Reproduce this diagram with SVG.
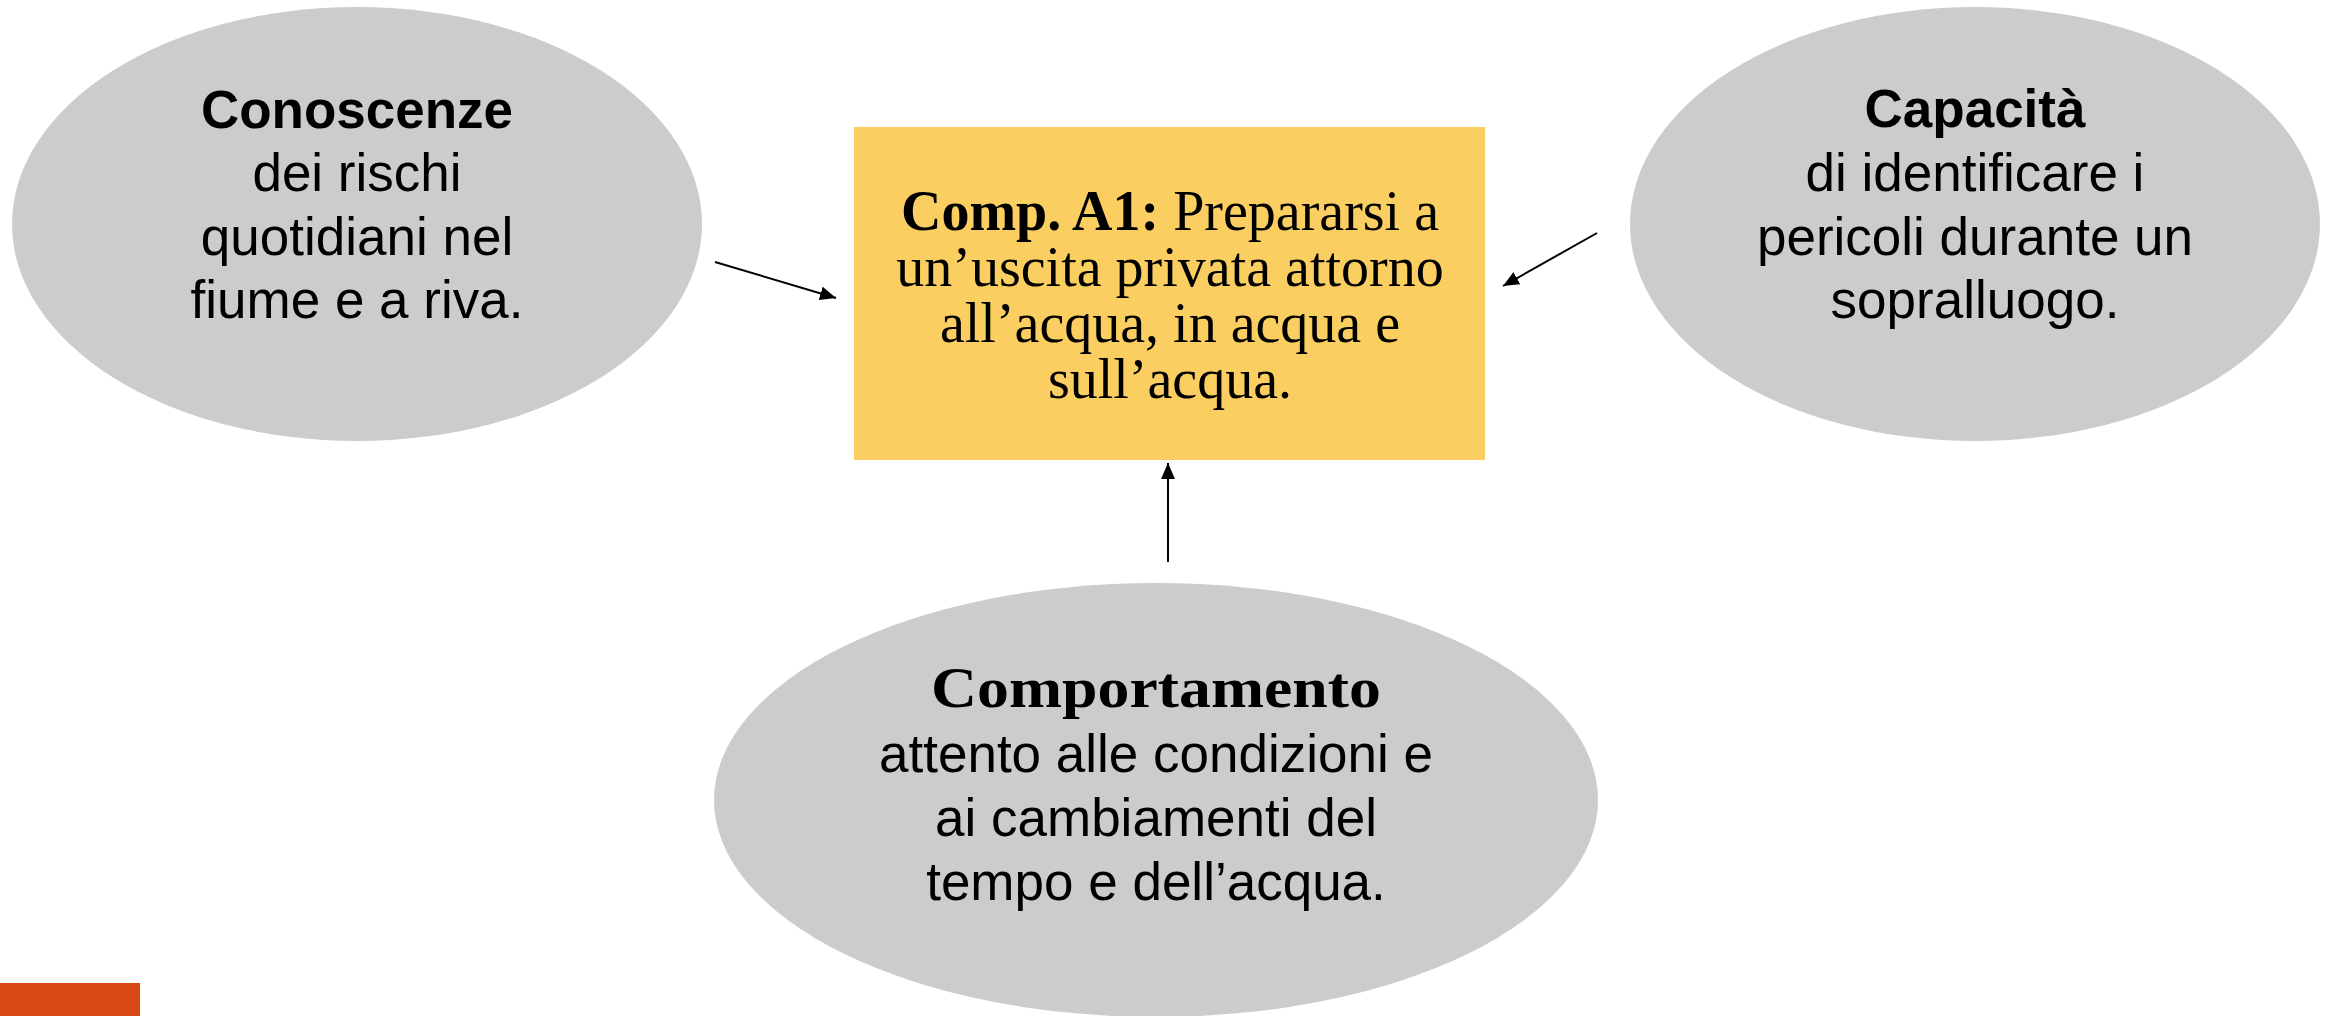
<svg xmlns="http://www.w3.org/2000/svg" width="2329" height="1016" viewBox="0 0 2329 1016">
<style>
.ell{fill:#CCCCCC;stroke:none}
.sans{font-family:"Liberation Sans",Arial,sans-serif;font-size:53px;fill:#000;text-anchor:middle}
.b{font-weight:bold}
.serif{font-family:"Liberation Serif","Times New Roman",serif;font-size:56px;fill:#000;text-anchor:middle}
.conn{stroke:#000;stroke-width:2;fill:none;marker-end:url(#ah)}
</style>
<defs>
<marker id="ah" viewBox="0 0 8 7" refX="8" refY="3.5" markerWidth="8" markerHeight="7" orient="auto" markerUnits="strokeWidth">
<path d="M0,0 L8,3.5 L0,7 Z" fill="#000"/>
</marker>
</defs>
<rect width="2329" height="1016" fill="#FFFFFF"/>
<g id="node-conoscenze">
<ellipse class="ell" cx="357" cy="224" rx="345" ry="217"/>
<text class="sans b" x="357" y="128">Conoscenze</text>
<text class="sans" x="357" y="191">dei rischi</text>
<text class="sans" x="357" y="255">quotidiani nel</text>
<text class="sans" x="357" y="318">fiume e a riva.</text>
</g>
<g id="node-comp-a1">
<rect x="854" y="127" width="631" height="333" fill="#FACE60"/>
<text class="serif" x="1170" y="230"><tspan font-weight="bold">Comp. A1:</tspan> Prepararsi a</text>
<text class="serif" x="1170" y="286">un’uscita privata attorno</text>
<text class="serif" x="1170" y="342">all’acqua, in acqua e</text>
<text class="serif" x="1170" y="398">sull’acqua.</text>
</g>
<g id="node-capacita">
<ellipse class="ell" cx="1975" cy="224" rx="345" ry="217"/>
<text class="sans b" x="1975" y="127">Capacità</text>
<text class="sans" x="1975" y="191">di identificare i</text>
<text class="sans" x="1975" y="255">pericoli durante un</text>
<text class="sans" x="1975" y="318">sopralluogo.</text>
</g>
<g id="node-comportamento">
<ellipse class="ell" cx="1156" cy="800" rx="442" ry="217"/>
<text class="serif b" x="1156" y="707" font-size="57" textLength="450" lengthAdjust="spacingAndGlyphs">Comportamento</text>
<text class="sans" x="1156" y="772">attento alle condizioni e</text>
<text class="sans" x="1156" y="836">ai cambiamenti del</text>
<text class="sans" x="1156" y="900">tempo e dell’acqua.</text>
</g>
<g id="connectors">
<line class="conn" x1="715" y1="262" x2="836" y2="298"/>
<line class="conn" x1="1597" y1="233" x2="1503" y2="286"/>
<line class="conn" x1="1168" y1="562" x2="1168" y2="463"/>
</g>
<rect id="accent-bar" x="0" y="983" width="140" height="33" fill="#D94715"/>
</svg>
